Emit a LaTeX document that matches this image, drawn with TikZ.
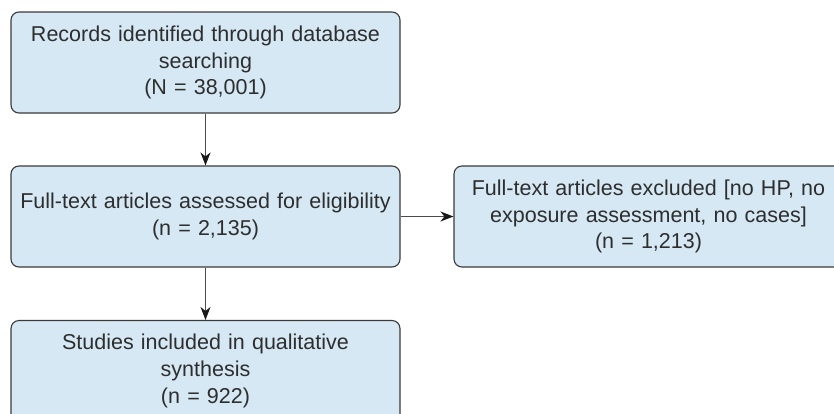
\documentclass[tikz,border=0pt]{standalone}
\usepackage{fontspec}
\setmainfont{Liberation Sans}
\usepackage{tikz}
\usetikzlibrary{arrows.meta}
\usepackage{xcolor}
\definecolor{boxfill}{HTML}{D5E8F4}
\definecolor{boxline}{HTML}{3A3A3A}
\definecolor{txt}{HTML}{2E2E2E}

\begin{document}
\begin{tikzpicture}[x=1pt,y=-1pt,
  box/.style={draw=boxline,fill=boxfill,line width=1.1pt,rounded corners=8pt,
    minimum width=389pt,minimum height=101pt,text width=386pt,align=center,
    text=txt,font=\fontsize{21.5}{26.7}\selectfont,inner sep=0pt},
  link/.style={draw=black!70,line width=1.1pt,
    -{Stealth[length=13pt,width=10pt,inset=4pt,color=black!90]}}]
\useasboundingbox (0,0) rectangle (834,413);
\node[box] (rec) at (205.5,62.5) {Records identified through database\\searching\\(N = 38,001)};
\node[box] (full) at (205.5,216.5) {Full-text articles assessed for eligibility\\(n = 2,135)};
\node[box] (excl) at (648.5,216.5) {Full-text articles excluded [no HP, no\\exposure assessment, no cases]\\(n = 1,213)};
\node[box] (incl) at (205.5,371) {Studies included in qualitative\\synthesis\\(n = 922)};
\draw[link] (rec) -- (full);
\draw[link] (full) -- (excl);
\draw[link] (full) -- (incl);
\end{tikzpicture}
\end{document}
